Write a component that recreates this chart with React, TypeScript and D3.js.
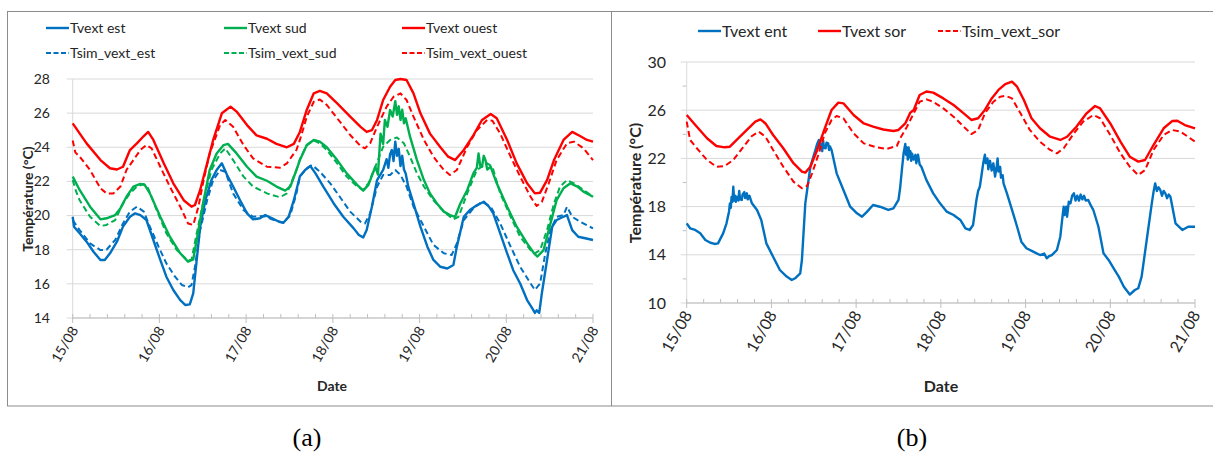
import React from "react";
import * as d3 from "d3";

// x values are days since 15/08 00:00
const dateLabels = ["15/08", "16/08", "17/08", "18/08", "19/08", "20/08", "21/08"];
const yTicksA = [14, 16, 18, 20, 22, 24, 26, 28];
const yTicksB = [10, 14, 18, 22, 26, 30];
const yMinorB = [12, 16, 20, 24, 28];

const tvextEst: [number, number][] = [[0,19.93],[0.015,19.35],[0.08,18.96],[0.16,18.47],[0.24,17.88],[0.32,17.4],[0.37,17.4],[0.43,17.79],[0.51,18.47],[0.58,19.35],[0.66,19.93],[0.72,20.13],[0.78,20.03],[0.85,19.74],[0.93,18.57],[1.01,17.4],[1.08,16.42],[1.16,15.64],[1.24,15.05],[1.3,14.76],[1.35,14.8],[1.39,15.44],[1.43,17.4],[1.47,19.35],[1.53,20.9],[1.6,22.08],[1.66,22.67],[1.72,23.06],[1.78,22.38],[1.85,21.7],[1.93,20.9],[2.01,20.13],[2.08,19.78],[2.16,19.84],[2.22,20.03],[2.3,19.84],[2.38,19.64],[2.43,19.58],[2.49,19.93],[2.55,20.9],[2.62,22.3],[2.68,22.67],[2.74,22.9],[2.8,22.47],[2.89,21.69],[3.01,20.71],[3.12,19.93],[3.24,19.25],[3.3,18.86],[3.35,18.72],[3.39,19.15],[3.45,20.52],[3.51,22.08],[3.58,22.67],[3.62,23.3],[3.64,22.8],[3.66,23.6],[3.68,23.84],[3.7,23.2],[3.72,24.33],[3.74,23.5],[3.76,23.9],[3.78,22.9],[3.8,23.5],[3.82,22.7],[3.84,22.47],[3.87,21.69],[3.93,20.71],[4.01,19.35],[4.09,18.18],[4.16,17.4],[4.24,17.0],[4.32,16.9],[4.39,17.1],[4.43,18.18],[4.51,19.93],[4.58,20.32],[4.66,20.6],[4.74,20.81],[4.8,20.52],[4.85,20.13],[4.93,18.96],[5.01,17.79],[5.08,16.8],[5.16,16.02],[5.24,15.05],[5.3,14.56],[5.33,14.3],[5.35,14.45],[5.38,14.3],[5.41,15.44],[5.47,17.4],[5.53,19.35],[5.58,19.74],[5.66,19.93],[5.7,20.03],[5.76,19.15],[5.83,18.76],[5.91,18.67],[6.0,18.57]];

const tsimVextEst: [number, number][] = [[0,19.74],[0.08,19.15],[0.2,18.37],[0.32,17.98],[0.39,18.0],[0.49,18.57],[0.58,19.54],[0.66,20.23],[0.74,20.52],[0.82,20.23],[0.89,19.35],[0.99,18.18],[1.08,17.2],[1.18,16.42],[1.26,15.93],[1.33,15.8],[1.37,15.93],[1.41,17.0],[1.47,19.15],[1.55,20.9],[1.62,22.08],[1.7,22.67],[1.76,22.57],[1.85,21.3],[1.97,20.32],[2.08,19.93],[2.2,19.97],[2.32,19.74],[2.43,19.58],[2.51,20.03],[2.58,21.3],[2.62,22.28],[2.7,22.77],[2.76,22.96],[2.85,22.57],[2.97,21.89],[3.08,21.1],[3.2,20.23],[3.32,19.64],[3.37,19.54],[3.43,20.13],[3.51,21.69],[3.58,22.38],[3.66,22.38],[3.72,22.67],[3.78,22.38],[3.85,21.69],[3.93,20.52],[4.05,19.35],[4.16,18.28],[4.28,17.79],[4.37,17.69],[4.43,18.37],[4.51,19.74],[4.62,20.42],[4.72,20.81],[4.82,20.52],[4.93,19.54],[5.05,18.18],[5.16,17.0],[5.28,16.02],[5.33,15.64],[5.39,16.02],[5.45,17.79],[5.51,19.15],[5.58,19.93],[5.66,20.03],[5.7,20.52],[5.76,19.93],[5.85,19.64],[6.0,19.25]];

const tvextSud: [number, number][] = [[0,22.28],[0.08,21.5],[0.2,20.52],[0.32,19.78],[0.39,19.84],[0.49,20.03],[0.55,20.42],[0.62,21.1],[0.7,21.7],[0.78,21.85],[0.83,21.8],[0.89,21.3],[1.01,19.93],[1.12,18.76],[1.24,17.79],[1.33,17.3],[1.39,17.43],[1.45,19.15],[1.51,20.9],[1.58,22.67],[1.66,23.64],[1.74,24.13],[1.79,24.2],[1.89,23.64],[2.01,22.86],[2.12,22.28],[2.24,22.04],[2.35,21.7],[2.45,21.46],[2.51,21.7],[2.58,22.67],[2.62,23.25],[2.7,24.13],[2.78,24.43],[2.85,24.33],[2.93,24.0],[3.05,23.25],[3.16,22.47],[3.28,21.8],[3.35,21.46],[3.41,21.8],[3.49,22.86],[3.52,22.4],[3.55,24.8],[3.58,24.2],[3.6,25.6],[3.63,25.2],[3.66,26.18],[3.69,25.8],[3.72,26.7],[3.74,25.9],[3.76,26.4],[3.78,25.6],[3.8,26.2],[3.82,25.4],[3.84,25.7],[3.89,24.62],[3.97,23.25],[4.05,22.08],[4.12,21.3],[4.2,20.71],[4.28,20.23],[4.35,20.03],[4.41,19.93],[4.47,20.71],[4.55,21.5],[4.62,22.47],[4.66,22.8],[4.68,23.64],[4.7,22.9],[4.72,22.86],[4.74,23.5],[4.76,23.25],[4.78,22.7],[4.82,22.86],[4.89,21.89],[5.01,20.52],[5.12,19.35],[5.24,18.37],[5.32,17.79],[5.36,17.6],[5.43,17.98],[5.51,19.54],[5.58,20.9],[5.66,21.6],[5.74,21.89],[5.82,21.7],[5.89,21.4],[6.0,21.1]];

const tsimVextSud: [number, number][] = [[0,22.08],[0.04,21.4],[0.08,20.9],[0.2,19.93],[0.32,19.39],[0.39,19.45],[0.49,19.74],[0.58,20.71],[0.66,21.3],[0.74,21.7],[0.82,21.85],[0.87,21.6],[0.97,20.3],[1.08,18.96],[1.2,17.98],[1.32,17.4],[1.37,17.4],[1.43,18.96],[1.51,20.9],[1.6,22.67],[1.7,23.64],[1.76,23.94],[1.85,23.25],[1.97,22.28],[2.08,21.7],[2.24,21.3],[2.39,21.07],[2.47,21.3],[2.58,22.67],[2.62,23.3],[2.7,24.13],[2.78,24.4],[2.85,24.23],[2.93,23.84],[3.05,23.06],[3.16,22.28],[3.28,21.7],[3.35,21.5],[3.41,21.89],[3.49,22.86],[3.58,24.03],[3.66,24.43],[3.74,24.58],[3.82,24.23],[3.89,23.45],[3.97,22.47],[4.05,21.7],[4.16,20.9],[4.28,20.23],[4.39,19.78],[4.45,19.93],[4.55,21.3],[4.66,22.67],[4.78,23.06],[4.84,22.86],[4.93,21.3],[5.05,19.93],[5.16,18.76],[5.28,17.98],[5.33,17.79],[5.39,17.98],[5.47,19.15],[5.55,20.71],[5.62,21.7],[5.7,22.08],[5.78,21.89],[5.89,21.5],[6.0,21.1]];

const tvextOuest: [number, number][] = [[0,25.4],[0.16,24.23],[0.32,23.25],[0.43,22.77],[0.51,22.7],[0.58,22.86],[0.66,23.84],[0.74,24.23],[0.82,24.66],[0.87,24.9],[0.93,24.43],[1.05,23.06],[1.16,21.89],[1.28,20.9],[1.37,20.52],[1.41,20.62],[1.47,21.5],[1.55,23.06],[1.62,24.43],[1.72,25.99],[1.82,26.38],[1.89,26.09],[2.01,25.3],[2.12,24.7],[2.24,24.5],[2.35,24.2],[2.47,24.0],[2.55,24.2],[2.62,24.9],[2.7,26.2],[2.78,27.16],[2.85,27.3],[2.93,27.16],[3.05,26.57],[3.2,25.8],[3.32,25.2],[3.39,24.9],[3.45,25.0],[3.51,25.6],[3.58,26.77],[3.66,27.55],[3.72,27.94],[3.78,28.0],[3.85,27.94],[3.93,27.16],[4.01,25.99],[4.12,24.8],[4.24,24.0],[4.33,23.45],[4.41,23.25],[4.51,23.84],[4.62,24.7],[4.72,25.6],[4.82,25.95],[4.89,25.7],[5.01,24.43],[5.12,23.06],[5.24,21.89],[5.33,21.3],[5.39,21.34],[5.47,22.08],[5.55,23.25],[5.66,24.43],[5.76,24.9],[5.85,24.66],[5.93,24.43],[6.0,24.33]];

const tsimVextOuest: [number, number][] = [[0,24.4],[0.03,23.7],[0.08,23.45],[0.2,22.67],[0.32,21.6],[0.39,21.3],[0.47,21.3],[0.55,21.7],[0.62,22.67],[0.7,23.25],[0.78,23.84],[0.85,24.13],[0.91,23.94],[1.01,22.86],[1.12,21.7],[1.24,20.52],[1.33,19.54],[1.39,19.45],[1.45,20.52],[1.51,22.08],[1.58,23.64],[1.7,25.3],[1.76,25.6],[1.85,25.2],[1.97,24.13],[2.08,23.35],[2.24,22.86],[2.39,22.8],[2.47,23.06],[2.58,23.84],[2.62,24.43],[2.66,25.1],[2.7,25.8],[2.78,26.67],[2.85,26.8],[2.93,26.48],[3.05,25.7],[3.2,24.72],[3.32,24.07],[3.37,23.94],[3.43,24.23],[3.51,25.2],[3.62,26.38],[3.7,26.96],[3.78,27.16],[3.85,26.77],[3.93,25.8],[4.05,24.43],[4.16,23.45],[4.28,22.67],[4.35,22.38],[4.43,22.67],[4.55,24.03],[4.66,25.0],[4.78,25.6],[4.84,25.56],[4.93,24.8],[5.05,23.45],[5.16,22.28],[5.28,21.1],[5.35,20.56],[5.41,20.8],[5.49,21.89],[5.58,23.25],[5.7,24.23],[5.78,24.33],[5.89,23.94],[6.0,23.25]];

const tvextEnt: [number, number][] = [[0,16.61],[0.04,16.2],[0.1,16.06],[0.16,15.78],[0.22,15.23],[0.28,15.0],[0.33,14.9],[0.37,14.95],[0.43,15.78],[0.47,16.61],[0.5,17.6],[0.51,18.27],[0.52,17.9],[0.53,18.8],[0.54,18.4],[0.55,19.65],[0.56,18.5],[0.57,18.9],[0.58,18.4],[0.59,18.82],[0.61,18.5],[0.62,19.3],[0.63,18.6],[0.65,18.55],[0.66,19.0],[0.68,19.2],[0.69,18.7],[0.71,19.1],[0.72,18.6],[0.74,18.9],[0.77,18.27],[0.83,17.72],[0.88,16.89],[0.94,14.95],[1.02,13.84],[1.1,12.74],[1.18,12.19],[1.24,11.91],[1.28,12.05],[1.34,12.46],[1.36,13.57],[1.4,18.27],[1.46,21.31],[1.52,22.7],[1.54,23.2],[1.56,23.53],[1.57,22.8],[1.59,23.2],[1.6,22.6],[1.61,23.5],[1.62,22.9],[1.64,22.84],[1.65,23.3],[1.67,23.25],[1.68,22.7],[1.69,23.0],[1.71,22.7],[1.77,20.76],[1.85,19.38],[1.93,17.99],[2.01,17.44],[2.07,17.16],[2.13,17.58],[2.2,18.13],[2.28,17.99],[2.38,17.72],[2.44,17.86],[2.5,18.55],[2.52,19.6],[2.54,21.04],[2.56,22.4],[2.58,23.2],[2.59,22.3],[2.6,22.9],[2.61,21.9],[2.62,22.9],[2.63,22.1],[2.64,22.6],[2.65,21.8],[2.66,22.4],[2.68,21.9],[2.7,22.3],[2.71,21.6],[2.73,22.3],[2.75,21.5],[2.77,21.31],[2.83,20.2],[2.91,19.1],[2.99,18.27],[3.07,17.58],[3.15,17.3],[3.23,16.89],[3.29,16.2],[3.34,16.06],[3.38,16.47],[3.42,18.55],[3.44,19.3],[3.46,19.65],[3.48,20.6],[3.5,21.59],[3.52,22.3],[3.53,21.6],[3.55,22.0],[3.56,21.1],[3.58,21.8],[3.6,21.0],[3.62,21.59],[3.64,20.5],[3.66,21.4],[3.67,22.0],[3.68,20.9],[3.7,21.3],[3.71,20.4],[3.73,20.6],[3.74,19.93],[3.78,19.1],[3.84,17.72],[3.9,16.33],[3.95,15.09],[4.01,14.54],[4.09,14.26],[4.17,13.98],[4.22,14.1],[4.25,13.71],[4.28,13.9],[4.31,13.98],[4.37,14.4],[4.41,15.5],[4.43,16.8],[4.45,17.99],[4.46,17.3],[4.48,18.0],[4.49,17.16],[4.51,18.4],[4.53,18.27],[4.55,18.9],[4.57,19.1],[4.59,18.5],[4.61,18.9],[4.63,18.5],[4.65,19.0],[4.67,18.6],[4.69,18.9],[4.71,18.5],[4.74,18.55],[4.77,18.1],[4.8,17.72],[4.86,16.33],[4.92,14.12],[4.98,13.57],[5.04,12.88],[5.1,12.19],[5.16,11.35],[5.23,10.7],[5.29,11.08],[5.33,11.22],[5.37,12.19],[5.43,15.23],[5.49,18.27],[5.51,19.2],[5.53,19.93],[5.55,19.3],[5.57,19.6],[5.59,19.38],[5.61,18.9],[5.63,19.3],[5.65,19.1],[5.67,18.7],[5.69,19.0],[5.71,18.82],[5.77,16.61],[5.85,16.06],[5.92,16.33],[6.0,16.33]];

const tvextSor: [number, number][] = [[0,25.6],[0.12,24.63],[0.24,23.67],[0.35,23.03],[0.45,22.92],[0.51,22.97],[0.59,23.53],[0.71,24.36],[0.81,25.05],[0.87,25.24],[0.93,24.9],[1.02,23.94],[1.14,22.84],[1.26,21.6],[1.36,20.9],[1.4,20.82],[1.46,21.31],[1.54,22.7],[1.63,24.5],[1.71,26.02],[1.79,26.63],[1.85,26.57],[1.97,25.6],[2.09,24.9],[2.2,24.63],[2.32,24.4],[2.44,24.27],[2.5,24.36],[2.58,24.9],[2.64,25.8],[2.68,26.02],[2.75,27.26],[2.83,27.55],[2.91,27.46],[3.03,26.98],[3.15,26.43],[3.27,25.74],[3.36,25.19],[3.44,25.33],[3.52,26.02],[3.6,26.98],[3.68,27.68],[3.76,28.17],[3.84,28.37],[3.9,27.95],[3.98,26.85],[4.07,25.33],[4.17,24.5],[4.29,23.8],[4.41,23.53],[4.49,23.8],[4.6,24.63],[4.72,25.74],[4.82,26.35],[4.88,26.15],[5.0,24.9],[5.12,23.39],[5.23,22.14],[5.33,21.73],[5.41,21.87],[5.51,23.11],[5.63,24.5],[5.73,25.1],[5.79,25.13],[5.88,24.77],[6.0,24.5]];

const tsimVextSor: [number, number][] = [[0,25.05],[0.04,23.53],[0.12,22.84],[0.24,21.87],[0.35,21.31],[0.45,21.37],[0.55,21.87],[0.67,22.97],[0.77,23.86],[0.85,24.22],[0.93,23.8],[1.02,22.7],[1.14,21.31],[1.26,20.07],[1.36,19.52],[1.42,19.7],[1.48,20.76],[1.56,22.42],[1.63,24.08],[1.71,25.19],[1.77,25.52],[1.85,25.33],[1.97,24.08],[2.09,23.25],[2.24,22.92],[2.36,22.78],[2.48,23.03],[2.52,23.67],[2.6,24.63],[2.68,25.74],[2.75,26.7],[2.83,26.9],[2.91,26.7],[3.03,26.15],[3.15,25.46],[3.27,24.63],[3.36,24.02],[3.44,24.36],[3.52,25.74],[3.62,26.7],[3.7,27.12],[3.76,27.2],[3.84,26.98],[3.94,25.74],[4.05,24.36],[4.17,23.39],[4.29,22.7],[4.37,22.42],[4.45,22.84],[4.57,24.08],[4.68,25.05],[4.8,25.6],[4.88,25.33],[5.0,23.94],[5.12,22.42],[5.23,21.31],[5.33,20.62],[5.41,21.03],[5.51,22.7],[5.63,23.94],[5.73,24.36],[5.83,24.22],[6.0,23.39]];

const BLUE = "#0070C0";
const GREEN = "#00B050";
const RED = "#FF0000";
const FONT = "Lato, 'Open Sans', sans-serif";

type Series = { name: string; data: [number, number][]; color: string; dashed: boolean; lx: number; ly: number };

type PanelProps = {
  x0: number; x1: number; yTop: number; yBot: number;
  domain: [number, number];
  ticks: number[]; minor: number[];
  series: Series[];
  fs: number;
  labelRight: number;
  titleX: number; titleY: number;
  dateX: number;
};

function Panel(p: PanelProps) {
  const x = d3.scaleLinear().domain([0, 6]).range([p.x0, p.x1]);
  const y = d3.scaleLinear().domain(p.domain).range([p.yBot, p.yTop]);
  const line = d3.line<[number, number]>().x((d) => x(d[0])).y((d) => y(d[1]));
  const minorX = d3.range(0, 30).map((i) => i / 5).filter((v) => Math.abs(v - Math.round(v)) > 1e-6);
  const axisY = p.yBot;
  return (
    <g>
      {p.ticks.map((t) => (
        <line key={"g" + t} x1={p.x0 - 6} x2={p.x1} y1={y(t)} y2={y(t)} stroke="#d9d9d9" strokeWidth={1} />
      ))}
      {p.minor.map((t) => (
        <line key={"m" + t} x1={p.x0 - 4} x2={p.x0} y1={y(t)} y2={y(t)} stroke="#bfbfbf" strokeWidth={1} />
      ))}
      <line x1={p.x0} x2={p.x0} y1={p.yTop} y2={axisY} stroke="#d9d9d9" strokeWidth={1} />
      <line x1={p.x0} x2={p.x1} y1={axisY} y2={axisY} stroke="#bfbfbf" strokeWidth={1} />
      {minorX.map((t) => (
        <line key={"mx" + t} x1={x(t)} x2={x(t)} y1={axisY - 4} y2={axisY} stroke="#bfbfbf" strokeWidth={1} />
      ))}
      {dateLabels.map((d, i) => (
        <line key={"tx" + i} x1={x(i)} x2={x(i)} y1={axisY - 4} y2={axisY + 5} stroke="#bfbfbf" strokeWidth={1} />
      ))}
      {p.ticks.map((t) => (
        <text key={"l" + t} x={p.labelRight} y={y(t)} dy="0.35em" textAnchor="end" fontSize={p.fs} fontFamily={FONT} fill="#262626">
          {t}
        </text>
      ))}
      {dateLabels.map((d, i) => (
        <text key={"d" + i} transform={`translate(${x(i) + 6},${axisY + 12}) rotate(-60)`} textAnchor="end" fontSize={p.fs} fontFamily={FONT} fill="#262626">
          {d}
        </text>
      ))}
      <text transform={`translate(${p.titleX},${p.titleY}) rotate(-90)`} textAnchor="middle" dy="0.35em" fontSize={p.fs} fontWeight="bold" fontFamily={FONT} fill="#262626">
        Température (°C)
      </text>
      <text x={p.dateX} y={386} textAnchor="middle" dy="0.35em" fontSize={p.fs} fontWeight="bold" fontFamily={FONT} fill="#262626">
        Date
      </text>
      {p.series.map((s) => (
        <path key={s.name} d={line(s.data) || ""} fill="none" stroke={s.color} strokeWidth={s.dashed ? 2 : 2.4} strokeDasharray={s.dashed ? "6,3.5" : undefined} strokeLinejoin="round" />
      ))}
      {p.series.map((s) => (
        <g key={"lg" + s.name}>
          <line x1={s.lx} x2={s.lx + 23} y1={s.ly} y2={s.ly} stroke={s.color} strokeWidth={s.dashed ? 2 : 2.4} strokeDasharray={s.dashed ? "5,2.5" : undefined} />
          <text x={s.lx + 24} y={s.ly} dy="0.35em" fontSize={p.fs} fontFamily={FONT} fill="#262626">
            {s.name}
          </text>
        </g>
      ))}
    </g>
  );
}

export default function App() {
  const seriesA: Series[] = [
    { name: "Tvext est", data: tvextEst, color: BLUE, dashed: false, lx: 46, ly: 28 },
    { name: "Tsim_vext_est", data: tsimVextEst, color: BLUE, dashed: true, lx: 46, ly: 53 },
    { name: "Tvext sud", data: tvextSud, color: GREEN, dashed: false, lx: 224, ly: 28 },
    { name: "Tsim_vext_sud", data: tsimVextSud, color: GREEN, dashed: true, lx: 224, ly: 53 },
    { name: "Tvext ouest", data: tvextOuest, color: RED, dashed: false, lx: 402, ly: 28 },
    { name: "Tsim_vext_ouest", data: tsimVextOuest, color: RED, dashed: true, lx: 402, ly: 53 },
  ];
  const seriesB: Series[] = [
    { name: "Tvext ent", data: tvextEnt, color: BLUE, dashed: false, lx: 698, ly: 31 },
    { name: "Tvext sor", data: tvextSor, color: RED, dashed: false, lx: 818, ly: 31 },
    { name: "Tsim_vext_sor", data: tsimVextSor, color: RED, dashed: true, lx: 938, ly: 31 },
  ];
  return (
    <svg width={1213} height={453} style={{ position: "absolute", left: 0, top: 0, background: "#fff" }}>
      <rect x={0} y={0} width={1213} height={453} fill="#fff" />
      <rect x={7.5} y={11.5} width={1210} height={394.5} fill="none" stroke="#8c8c8c" strokeWidth={1} />
      <line x1={611.5} x2={611.5} y1={11.5} y2={406} stroke="#8c8c8c" strokeWidth={1} />
      <Panel x0={72.7} x1={593} yTop={79} yBot={318} domain={[14, 28]} ticks={yTicksA} minor={[]} series={seriesA} fs={14}
        labelRight={50} titleX={28} titleY={199} dateX={332} />
      <Panel x0={686.7} x1={1195} yTop={62} yBot={303} domain={[10, 30]} ticks={yTicksB} minor={yMinorB} series={seriesB} fs={16}
        labelRight={666} titleX={635} titleY={183} dateX={941} />
      <text x={307} y={446} textAnchor="middle" fontSize={26} fontFamily="'Liberation Serif', 'DejaVu Serif', serif" fill="#000">(a)</text>
      <text x={912} y={446} textAnchor="middle" fontSize={26} fontFamily="'Liberation Serif', 'DejaVu Serif', serif" fill="#000">(b)</text>
    </svg>
  );
}
